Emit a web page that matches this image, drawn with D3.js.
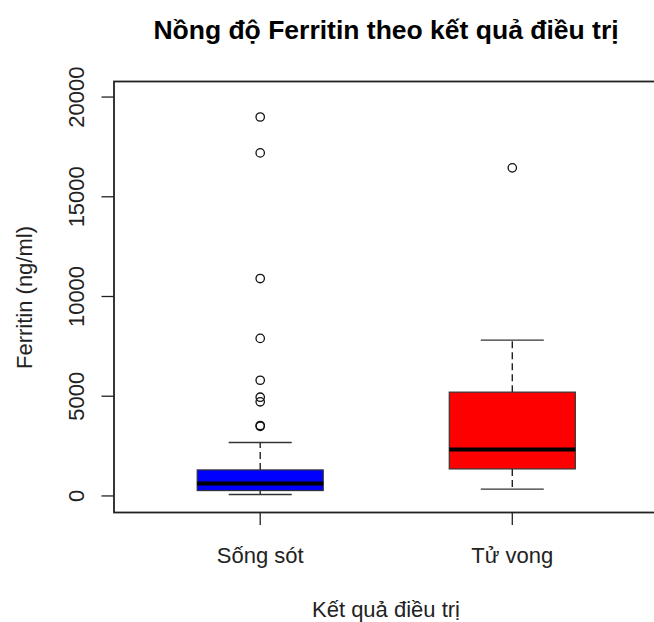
<!DOCTYPE html>
<html>
<head>
<meta charset="utf-8">
<script src="https://cdn.jsdelivr.net/npm/d3@7"></script>
<style>
  html, body { margin: 0; padding: 0; background: #fff; }
  svg { display: block; font-family: "Liberation Sans", Arial, sans-serif; }
</style>
</head>
<body>
<svg id="chart" width="654" height="622"></svg>
<script>
// ---- data ----
const categories = ["Sống sót", "Tử vong"];
const fills = ["#0000ff", "#ff0000"];
const whiskerLow = [70, 340];
const q1 = [270, 1355];
const median = [620, 2330];
const q3 = [1305, 5205];
const whiskerHigh = [2680, 7815];
const outliersSong = [19000, 17200, 10900, 7900, 5800, 4950, 4720, 3530, 3490];
const outliersTu = [16450];
const outliers = [outliersSong, outliersTu];
const yTicks = [0, 5000, 10000, 15000, 20000];
const title = "Nồng độ Ferritin theo kết quả điều trị";
const xTitle = "Kết quả điều trị";
const yTitle = "Ferritin (ng/ml)";

// ---- layout ----
const svg = d3.select("#chart");
const plotL = 114, plotR = 658.5, plotT = 81.5, plotB = 512.5;

const x = d3.scaleLinear().domain([0.42, categories.length + 0.58]).range([plotL, plotR]);
const y = d3.scaleLinear().domain([-830, 20780]).range([plotB, plotT]);

const boxHalf = 0.25, capHalf = 0.125;

const groups = categories.map((c, i) => ({
  i, c, pos: i + 1, fill: fills[i],
  lo: whiskerLow[i], q1: q1[i], med: median[i], q3: q3[i], hi: whiskerHigh[i],
  out: outliers[i]
}));

const g = svg.append("g");

groups.forEach(d => {
  const gg = g.append("g");
  // whiskers (dashed), drawn from box outward
  gg.append("line")
    .attr("x1", x(d.pos)).attr("x2", x(d.pos))
    .attr("y1", y(d.q3)).attr("y2", y(d.hi))
    .attr("stroke", "#222").attr("stroke-width", 1.4).attr("stroke-dasharray", "7,4");
  gg.append("line")
    .attr("x1", x(d.pos)).attr("x2", x(d.pos))
    .attr("y1", y(d.q1)).attr("y2", y(d.lo))
    .attr("stroke", "#222").attr("stroke-width", 1.4).attr("stroke-dasharray", "7,4");
  // caps
  [d.lo, d.hi].forEach(v => {
    gg.append("line")
      .attr("x1", x(d.pos - capHalf)).attr("x2", x(d.pos + capHalf))
      .attr("y1", y(v)).attr("y2", y(v))
      .attr("stroke", "#333").attr("stroke-width", 1.4);
  });
  // box
  gg.append("rect")
    .attr("x", x(d.pos - boxHalf)).attr("width", x(d.pos + boxHalf) - x(d.pos - boxHalf))
    .attr("y", y(d.q3)).attr("height", y(d.q1) - y(d.q3))
    .attr("fill", d.fill).attr("stroke", "#333").attr("stroke-width", 1.2);
  // median
  gg.append("line")
    .attr("x1", x(d.pos - boxHalf)).attr("x2", x(d.pos + boxHalf))
    .attr("y1", y(d.med)).attr("y2", y(d.med))
    .attr("stroke", "#000").attr("stroke-width", 4);
  // outliers
  gg.selectAll("circle").data(d.out).join("circle")
    .attr("cx", x(d.pos)).attr("cy", v => y(v)).attr("r", 4.2)
    .attr("fill", "none").attr("stroke", "#111").attr("stroke-width", 1.3);
});

// plot frame
svg.append("rect")
  .attr("x", plotL).attr("y", plotT)
  .attr("width", plotR - plotL).attr("height", plotB - plotT)
  .attr("fill", "none").attr("stroke", "#222").attr("stroke-width", 1.8);

// y axis
const yAxis = svg.append("g").attr("transform", `translate(${plotL},0)`);
yTicks.forEach(t => {
  yAxis.append("line").attr("x1", -12.5).attr("x2", 0).attr("y1", y(t)).attr("y2", y(t))
    .attr("stroke", "#222").attr("stroke-width", 1.3);
  yAxis.append("text")
    .attr("transform", `translate(${-30.5},${y(t)}) rotate(-90)`)
    .attr("text-anchor", "middle")
    .attr("font-size", 22).attr("fill", "#222")
    .text(t);
});

// x axis ticks
groups.forEach(d => {
  svg.append("line").attr("x1", x(d.pos)).attr("x2", x(d.pos))
    .attr("y1", plotB).attr("y2", plotB + 12.5)
    .attr("stroke", "#222").attr("stroke-width", 1.3);
  svg.append("text")
    .attr("x", x(d.pos)).attr("y", 562.5)
    .attr("text-anchor", "middle").attr("font-size", 22).attr("fill", "#222")
    .text(d.c);
});

// titles
svg.append("text")
  .attr("x", 386).attr("y", 38.5)
  .attr("text-anchor", "middle").attr("font-size", 26.5).attr("font-weight", "bold").attr("fill", "#000")
  .text(title);
svg.append("text")
  .attr("x", 386).attr("y", 617)
  .attr("text-anchor", "middle").attr("font-size", 22).attr("fill", "#222")
  .text(xTitle);
svg.append("text")
  .attr("transform", `translate(32,${(plotT + plotB) / 2 + 0.5}) rotate(-90)`)
  .attr("text-anchor", "middle").attr("font-size", 22).attr("fill", "#222")
  .text(yTitle);
</script>
</body>
</html>
